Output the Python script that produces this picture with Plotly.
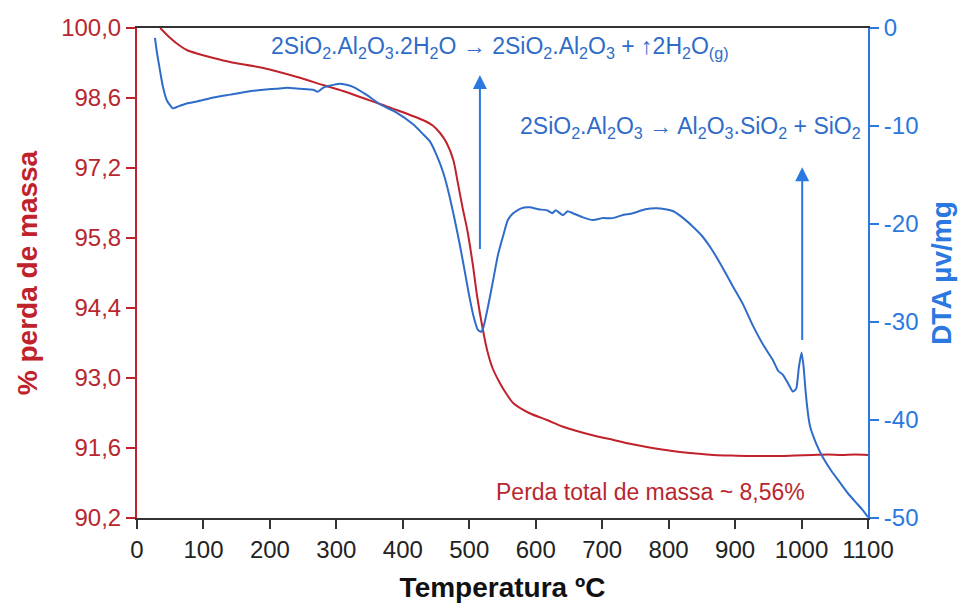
import plotly.graph_objects as go

# Thermogravimetric curve (mass %) vs temperature
tg_temp = [35, 50, 65, 75, 90, 115, 140, 190, 241, 280, 310, 340, 370, 391, 430, 445,
           456, 466, 476, 482, 490, 497, 505, 512, 520, 527, 535, 546, 556, 566,
           590, 617, 640, 667, 690, 717, 740, 767, 790, 817, 840, 867, 890, 918,
           940, 968, 990, 1017, 1040, 1060, 1080, 1100]
tg_mass = [100.0, 99.8, 99.64, 99.56, 99.49, 99.4, 99.32, 99.2, 99.02, 98.86, 98.74, 98.6,
           98.46, 98.36, 98.16, 98.05, 97.9, 97.7, 97.36, 96.96, 96.4, 95.96, 95.3,
           94.62, 94.0, 93.55, 93.2, 92.9, 92.68, 92.5, 92.3, 92.16, 92.03, 91.92,
           91.84, 91.76, 91.69, 91.62, 91.57, 91.52, 91.49, 91.46, 91.45, 91.44,
           91.44, 91.44, 91.45, 91.46, 91.47, 91.46, 91.47, 91.46]

# Differential thermal analysis signal vs temperature
dta_temp = [27, 30, 35, 39, 45, 54, 62, 75, 90, 115, 140, 165, 190, 210, 226, 245,
            265, 272, 280, 290, 305, 315, 325, 345, 366, 390, 415, 430, 441, 451,
            461, 469, 476, 484, 491, 499, 506, 513, 518, 521, 528, 536, 543, 551,
            558, 566, 578, 591, 604, 617, 625, 630, 641, 648, 656, 670, 686, 700,
            716, 730, 746, 765, 782, 795, 807, 822, 837, 850, 862, 880, 897, 912,
            927, 942, 957, 965, 972, 980, 987, 992, 996, 1000, 1003, 1006, 1010,
            1013, 1022, 1032, 1045, 1058, 1070, 1083, 1092, 1100]
dta_val = [-1.0, -2.5, -4.5, -6.0, -7.4, -8.2, -8.0, -7.7, -7.5, -7.1, -6.8, -6.5,
           -6.3, -6.2, -6.1, -6.2, -6.3, -6.5, -6.1, -5.9, -5.7, -5.8, -6.0, -6.8,
           -7.8, -8.6, -9.8, -10.8, -11.6, -13.0, -14.8, -16.8, -18.9, -21.5, -24.0,
           -27.0, -29.3, -30.8, -31.0, -30.6, -28.5, -25.7, -23.2, -21.2, -19.6,
           -18.9, -18.4, -18.3, -18.5, -18.6, -18.9, -18.6, -19.1, -18.7, -18.9,
           -19.3, -19.6, -19.4, -19.4, -19.1, -18.9, -18.5, -18.4, -18.5, -18.7,
           -19.4, -20.3, -21.2, -22.3, -24.3, -26.4, -28.2, -30.4, -32.3, -33.9,
           -35.0, -35.4, -36.3, -37.1, -36.8, -34.6, -33.1, -34.5, -37.0, -39.5,
           -40.7, -42.4, -43.8, -45.2, -46.4, -47.5, -48.5, -49.2, -49.9]

# Axis ticks
x_ticks = [0, 100, 200, 300, 400, 500, 600, 700, 800, 900, 1000, 1100]
mass_ticks = [90.2, 91.6, 93.0, 94.4, 95.8, 97.2, 98.6, 100.0]
mass_labels = ["90,2", "91,6", "93,0", "94,4", "95,8", "97,2", "98,6", "100,0"]
dta_ticks = [-50, -40, -30, -20, -10, 0]
dta_labels = ["-50", "-40", "-30", "-20", "-10", "0"]

# Reaction arrows: temperature, arrow tail and head on the DTA scale
arrow_temp = [516, 1001]
arrow_tail = [-22.7, -32.0]
arrow_head = [-4.8, -14.2]

RED = "#c0222c"
RED_TXT = "#b8272f"
BLUE = "#2f6cc9"
BLUE_AX = "#2a78e0"
FONT = "Liberation Sans, Arial, sans-serif"

fig = go.Figure()
fig.add_trace(go.Scatter(x=tg_temp, y=tg_mass, mode="lines",
                         line=dict(color=RED, width=2, shape="spline", smoothing=0.8),
                         yaxis="y"))
fig.add_trace(go.Scatter(x=dta_temp, y=dta_val, mode="lines",
                         line=dict(color=BLUE, width=2, shape="spline", smoothing=0.5),
                         yaxis="y2"))

for t, tail, head in zip(arrow_temp, arrow_tail, arrow_head):
    fig.add_annotation(x=t, y=head, xref="x", yref="y2",
                       ax=t, ay=tail, axref="x", ayref="y2",
                       text="", showarrow=True, arrowhead=2, arrowsize=1.4,
                       arrowwidth=2, arrowcolor=BLUE_AX, standoff=0)

fig.add_annotation(x=546, y=-2.0, xref="x", yref="y2",
                   text="2SiO<sub>2</sub>.Al<sub>2</sub>O<sub>3</sub>.2H<sub>2</sub>O → "
                        "2SiO<sub>2</sub>.Al<sub>2</sub>O<sub>3</sub> + ↑2H<sub>2</sub>O<sub>(g)</sub>",
                   showarrow=False, font=dict(family=FONT, size=23, color=BLUE),
                   xanchor="center", yanchor="middle")
fig.add_annotation(x=1092, y=-10.2, xref="x", yref="y2",
                   text="2SiO<sub>2</sub>.Al<sub>2</sub>O<sub>3</sub> → "
                        "Al<sub>2</sub>O<sub>3</sub>.SiO<sub>2</sub> + SiO<sub>2</sub>",
                   showarrow=False, font=dict(family=FONT, size=23, color=BLUE),
                   xanchor="right", yanchor="middle")
fig.add_annotation(x=772, y=90.72, xref="x", yref="y",
                   text="Perda total de massa ~ 8,56%",
                   showarrow=False, font=dict(family=FONT, size=23, color=RED_TXT),
                   xanchor="center", yanchor="middle")

fig.update_layout(
    width=970, height=603,
    margin=dict(l=137, r=102, t=28, b=85),
    paper_bgcolor="white", plot_bgcolor="white",
    showlegend=False,
    font=dict(family=FONT),
    xaxis=dict(range=[0, 1100], tickvals=x_ticks, ticks="outside", ticklen=9,
               tickwidth=1.5, tickcolor="#333", showline=True, linecolor="#333",
               linewidth=2, mirror=True, showgrid=False, zeroline=False,
               automargin=False, tickfont=dict(size=24, color="#222"),
               title=dict(text="<b>Temperatura ºC</b>", standoff=18,
                          font=dict(size=28, color="#111"))),
    yaxis=dict(range=[90.2, 100], tickvals=mass_ticks, ticktext=mass_labels,
               ticks="outside", ticklen=9, tickwidth=1.5, tickcolor=RED,
               showline=True, linecolor=RED, linewidth=2, showgrid=False,
               zeroline=False, automargin=False, tickfont=dict(size=24, color=RED_TXT),
               title=dict(text="<b>% perda de massa</b>", standoff=15,
                          font=dict(size=28, color=RED))),
    yaxis2=dict(range=[-50, 0], tickvals=dta_ticks, ticktext=dta_labels,
                overlaying="y", side="right",
                ticks="outside", ticklen=9, tickwidth=1.5, tickcolor=BLUE_AX,
                showline=True, linecolor=BLUE_AX, linewidth=2, showgrid=False,
                zeroline=False, automargin=False, tickfont=dict(size=24, color=BLUE_AX),
                title=dict(text="<b>DTA µv/mg</b>", standoff=14,
                           font=dict(size=28, color=BLUE_AX))),
)

fig.write_html("out.html")
